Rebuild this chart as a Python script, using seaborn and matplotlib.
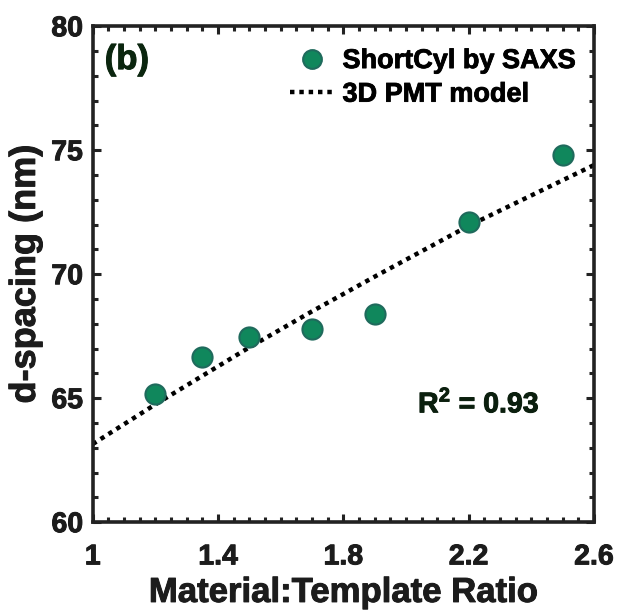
import matplotlib
matplotlib.use("Agg")
import matplotlib.pyplot as plt
import matplotlib.patheffects as pe
import seaborn as sns
import pandas as pd
from matplotlib.ticker import MultipleLocator
from matplotlib.lines import Line2D

# Measured d-spacing vs material:template ratio
ratio = [1.2, 1.35, 1.5, 1.7, 1.9, 2.2, 2.5]
d_spacing = [65.15, 66.65, 67.45, 67.8, 68.4, 72.1, 74.8]

# 3D PMT model prediction
model_ratio = [1.0, 1.2, 1.5, 1.7, 1.9, 2.2, 2.6]
model_d = [63.15, 64.75, 67.05, 68.5, 69.9, 71.95, 74.4]

r_squared = 0.93

x_ticks = [1, 1.4, 1.8, 2.2, 2.6]
x_tick_labels = ["1", "1.4", "1.8", "2.2", "2.6"]
y_ticks = [60, 65, 70, 75, 80]

DARK = "#1c1c1c"
GREEN = "#10875C"
GREEN_EDGE = "#1F6A5C"

sns.set_style("ticks")
plt.rcParams["font.family"] = ["Liberation Sans", "DejaVu Sans"]
plt.rcParams["font.weight"] = "bold"
plt.rcParams["mathtext.fontset"] = "custom"
plt.rcParams["mathtext.rm"] = "Liberation Sans"
plt.rcParams["mathtext.bf"] = "Liberation Sans:bold"


def heavy(color, w=0.7):
    return [pe.withStroke(linewidth=w, foreground=color)]


fig = plt.figure(figsize=(6.18, 6.10), dpi=100)
ax = fig.add_axes([0.150, 0.144, 0.811, 0.813])

pts = pd.DataFrame({"ratio": ratio, "d": d_spacing})
mdl = pd.DataFrame({"ratio": model_ratio, "d": model_d})

sns.lineplot(data=mdl, x="ratio", y="d", ax=ax, color="black", lw=3.2,
             linestyle=(0, (1, 1.1)), zorder=2, sort=True)
sns.scatterplot(data=pts, x="ratio", y="d", ax=ax, s=210, color=GREEN,
                edgecolor=GREEN_EDGE, linewidth=1.5, zorder=3)

ax.set_xlim(1, 2.6)
ax.set_ylim(60, 80)
ax.set_xticks(x_ticks)
ax.set_xticklabels(x_tick_labels)
ax.set_yticks(y_ticks)
ax.xaxis.set_minor_locator(MultipleLocator(0.05))
ax.yaxis.set_minor_locator(MultipleLocator(1))

for s in ax.spines.values():
    s.set_linewidth(2.6)
    s.set_color("#222222")

ax.tick_params(which="both", direction="in", top=True, right=True,
               color="#222222", width=2.2)
ax.tick_params(which="major", length=6, labelsize=20.5, labelcolor=DARK)
ax.tick_params(axis="x", which="major", pad=16)
ax.tick_params(axis="y", which="major", pad=7)
ax.tick_params(which="minor", length=3.5)
for lab in ax.get_xticklabels() + ax.get_yticklabels():
    lab.set_fontweight("bold")
    lab.set_path_effects(heavy(DARK))

ax.set_xlabel("Material:Template Ratio", fontsize=25, fontweight="bold",
              color=DARK, labelpad=4, path_effects=heavy(DARK))
ax.set_ylabel("d-spacing (nm)", fontsize=26, fontweight="bold",
              color=DARK, labelpad=6, path_effects=heavy(DARK))

ax.text(0.024, 0.966, "(b)", transform=ax.transAxes, fontsize=25,
        fontweight="bold", color="#0B260F", va="top", ha="left",
        path_effects=heavy("#0B260F"))
ax.text(0.892, 0.239, f"R$^\\mathbf{{2}}$ = {r_squared:.2f}",
        transform=ax.transAxes, fontsize=20.5, fontweight="bold",
        color="#0B1F0E", ha="right", va="center",
        path_effects=heavy("#0B1F0E"))

handles = [
    Line2D([], [], marker="o", linestyle="none", markersize=13.5,
           markerfacecolor=GREEN, markeredgecolor=GREEN_EDGE,
           markeredgewidth=1.5),
    Line2D([], [], color="black", lw=3.2, linestyle=(0, (1, 1.1))),
]
leg = ax.legend(handles, ["ShortCyl by SAXS", "3D PMT model"],
                loc="upper left", bbox_to_anchor=(0.393, 0.956),
                frameon=False, prop={"size": 19.5, "weight": "bold"},
                handlelength=1.65, handletextpad=0.3, labelspacing=0.28,
                borderaxespad=0.0, borderpad=0.0)
for t in leg.get_texts():
    t.set_color("black")
    t.set_path_effects(heavy("black", 0.6))

fig.savefig("out.png", dpi=100)
